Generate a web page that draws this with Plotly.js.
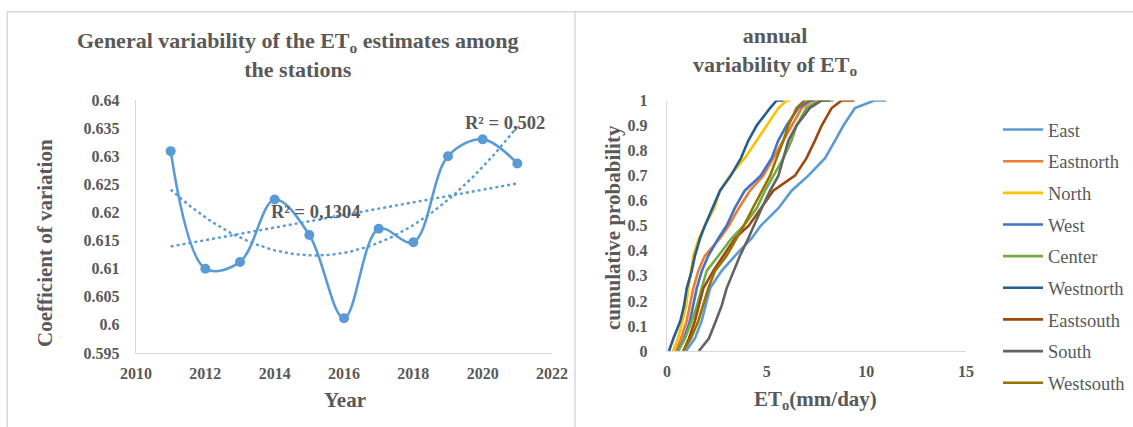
<!DOCTYPE html>
<html>
<head>
<meta charset="utf-8">
<script src="https://cdn.plot.ly/plotly-3.0.1.min.js"></script>
<style>
  html, body { margin: 0; padding: 0; background: #ffffff; }
  #chart { width: 1133px; height: 427px; }
</style>
</head>
<body>
<div id="chart"></div>
<script>
// ---------- Left chart data: coefficient of variation by year ----------
var years = [2011, 2012, 2013, 2014, 2015, 2016, 2017, 2018, 2019, 2020, 2021];
var cvValues = [0.6309, 0.6100, 0.6112, 0.6223, 0.6160, 0.6012, 0.6171, 0.6147, 0.6300, 0.6330, 0.6287];
var r2Linear = "R² = 0,1304";
var r2Poly = "R² = 0,502";

// ---------- Right chart data: empirical cumulative probability of ETo ----------
var probLevels = [0, 0.05, 0.12, 0.18, 0.25, 0.32, 0.38, 0.45, 0.5, 0.57, 0.64, 0.7, 0.77, 0.84, 0.9, 0.97, 1, 1];
var stationNames = ["East", "Eastnorth", "North", "West", "Center", "Westnorth", "Eastsouth", "South", "Westsouth"];
var etEast      = [0.95, 1.40, 1.74, 1.95, 2.16, 2.74, 3.41, 4.25, 4.70, 5.59, 6.25, 7.09, 7.93, 8.43, 8.85, 9.43, 10.4, 11.0];
var etEastnorth = [0.45, 0.70, 0.99, 1.15, 1.32, 1.57, 1.90, 2.66, 3.10, 3.60, 4.16, 4.83, 5.33, 5.84, 6.25, 6.76, 7.30, 7.80];
var etNorth     = [0.30, 0.55, 0.78, 0.95, 1.07, 1.20, 1.32, 1.60, 1.90, 2.37, 2.66, 3.16, 3.90, 4.50, 5.00, 5.59, 6.00, 6.20];
var etWest      = [0.55, 0.85, 1.15, 1.30, 1.49, 1.75, 2.07, 2.58, 2.99, 3.40, 3.90, 4.70, 5.25, 5.58, 6.00, 6.59, 7.17, 7.40];
var etCenter    = [0.57, 0.90, 1.24, 1.50, 1.74, 1.99, 2.58, 3.24, 3.85, 4.50, 4.92, 5.33, 5.84, 6.25, 6.50, 7.00, 7.60, 8.35];
var etWestnorth = [0.10, 0.32, 0.67, 0.85, 0.99, 1.24, 1.40, 1.66, 1.90, 2.30, 2.66, 3.20, 3.71, 4.08, 4.50, 5.17, 5.50, 5.85];
var etEastsouth = [0.82, 1.10, 1.40, 1.60, 1.82, 2.32, 2.83, 3.41, 4.10, 4.70, 5.33, 6.42, 7.00, 7.42, 7.76, 8.26, 8.76, 9.40];
var etSouth     = [1.60, 2.10, 2.45, 2.74, 2.99, 3.33, 3.66, 4.08, 4.35, 4.75, 5.17, 5.59, 5.84, 6.09, 6.50, 7.17, 7.76, 8.18];
var etWestsouth = [0.82, 1.20, 1.57, 1.80, 2.07, 2.41, 2.99, 3.49, 3.85, 4.30, 4.75, 5.17, 5.50, 5.84, 6.09, 6.50, 6.90, 7.26];
var stationColors = ["#5B9BD5", "#ED7D31", "#FFC000", "#4472C4", "#70AD47", "#255E91", "#9E480E", "#636363", "#997300"];

var tickLabelsRightX = [0, 5, 10, 15];

// ---------- helpers ----------
var W = 1133, H = 427;
function px(x) { return x / W; }
function py(y) { return 1 - y / H; }

// least squares polynomial fit (degree 1 or 2) computed from the data
function polyFit(xs, ys, deg) {
  var n = deg + 1, x0 = 2016;
  var A = [], b = [];
  for (var i = 0; i < n; i++) { A.push(new Array(n).fill(0)); b.push(0); }
  for (var k = 0; k < xs.length; k++) {
    var t = xs[k] - x0;
    for (var i2 = 0; i2 < n; i2++) {
      for (var j = 0; j < n; j++) A[i2][j] += Math.pow(t, i2 + j);
      b[i2] += ys[k] * Math.pow(t, i2);
    }
  }
  for (var c = 0; c < n; c++) {
    for (var r = c + 1; r < n; r++) {
      var f = A[r][c] / A[c][c];
      for (var cc = c; cc < n; cc++) A[r][cc] -= f * A[c][cc];
      b[r] -= f * b[c];
    }
  }
  var coef = new Array(n).fill(0);
  for (var r2 = n - 1; r2 >= 0; r2--) {
    var s = b[r2];
    for (var cc2 = r2 + 1; cc2 < n; cc2++) s -= A[r2][cc2] * coef[cc2];
    coef[r2] = s / A[r2][r2];
  }
  return function (x) {
    var t = x - x0, v = 0;
    for (var p = 0; p < n; p++) v += coef[p] * Math.pow(t, p);
    return v;
  };
}
var linFn = polyFit(years, cvValues, 1);
var quadFn = polyFit(years, cvValues, 2);
var fitX = [];
for (var i = 0; i <= 100; i++) fitX.push(years[0] + (years[years.length - 1] - years[0]) * i / 100);
var linY = fitX.map(linFn);
var quadY = fitX.map(quadFn);

var grey = "#595959";
var serif = "Liberation Serif";
var blue = "#5B9BD5";

var traces = [];
traces.push({
  x: years, y: cvValues, type: "scatter", mode: "lines+markers",
  line: { color: blue, width: 2.6, shape: "spline", smoothing: 1 },
  marker: { color: blue, size: 10 },
  xaxis: "x", yaxis: "y", showlegend: false
});
traces.push({
  x: fitX, y: linY, type: "scatter", mode: "lines",
  line: { color: blue, width: 2.4, dash: "dot" },
  xaxis: "x", yaxis: "y", showlegend: false
});
traces.push({
  x: fitX, y: quadY, type: "scatter", mode: "lines",
  line: { color: blue, width: 2.4, dash: "dot" },
  xaxis: "x", yaxis: "y", showlegend: false
});

var etSeries = [etEast, etEastnorth, etNorth, etWest, etCenter, etWestnorth, etEastsouth, etSouth, etWestsouth];
for (var s = 0; s < stationNames.length; s++) {
  traces.push({
    x: etSeries[s], y: probLevels, type: "scatter", mode: "lines",
    name: stationNames[s], legendgroup: "g" + s,
    line: { color: stationColors[s], width: 2.6 },
    xaxis: "x2", yaxis: "y2"
  });
}

var tickFont = { family: serif, size: 16, color: grey, weight: 700 };
var axisLine = "#d9d9d9";

var layout = {
  width: W, height: H,
  margin: { l: 0, r: 0, t: 0, b: 0 },
  paper_bgcolor: "#ffffff", plot_bgcolor: "rgba(0,0,0,0)",
  showlegend: true,
  font: { family: serif, color: grey, size: 16 },
  xaxis: {
    domain: [px(136), px(552)], range: [2010, 2022], dtick: 2, tick0: 2010,
    showgrid: false, zeroline: false, showline: true, linecolor: axisLine, linewidth: 1.3,
    ticks: "", tickfont: tickFont, ticklabelstandoff: 5, anchor: "y", fixedrange: true
  },
  yaxis: {
    domain: [py(353), py(100)], range: [0.595, 0.64], dtick: 0.005, tick0: 0.595,
    showgrid: false, zeroline: false, showline: true, linecolor: axisLine, linewidth: 1.3,
    ticks: "", tickfont: tickFont, ticklabelstandoff: 12, anchor: "x", fixedrange: true
  },
  xaxis2: {
    domain: [px(667), px(966)], range: [0, 15], tickvals: tickLabelsRightX,
    showgrid: false, zeroline: false, showline: true, linecolor: axisLine, linewidth: 1.3,
    ticks: "", tickfont: tickFont, ticklabelstandoff: 5, anchor: "y2", fixedrange: true
  },
  yaxis2: {
    domain: [py(351), py(100.5)], range: [0, 1], dtick: 0.1, tick0: 0,
    showgrid: false, zeroline: false, showline: true, linecolor: axisLine, linewidth: 1.3,
    ticks: "", tickfont: tickFont, ticklabelstandoff: 15, anchor: "x2", fixedrange: true
  },
  legend: {
    x: px(998), xanchor: "left", y: py(111), yanchor: "top",
    font: { family: serif, size: 18.5, color: grey, weight: 400 },
    bgcolor: "rgba(0,0,0,0)", borderwidth: 0,
    traceorder: "grouped", tracegroupgap: 4.6, itemwidth: 40
  },
  shapes: [
    { type: "line", xref: "paper", yref: "paper", x0: px(7), x1: 1, y0: py(11.7), y1: py(11.7), line: { color: "#d9d9d9", width: 1.5 } },
    { type: "line", xref: "paper", yref: "paper", x0: px(7.3), x1: px(7.3), y0: py(11.7), y1: 0, line: { color: "#d9d9d9", width: 1.5 } },
    { type: "line", xref: "paper", yref: "paper", x0: px(575), x1: px(575), y0: py(11.7), y1: 0, line: { color: "#d9d9d9", width: 1.5 } }
  ],
  annotations: [
    { text: "General variability of the ET<sub>o</sub> estimates among<br>the stations", xref: "paper", yref: "paper",
      x: px(298), y: py(55), xanchor: "center", yanchor: "middle", showarrow: false,
      font: { family: serif, size: 22, color: grey, weight: 700 } },
    { text: "annual<br>variability of ET<sub>o</sub>", xref: "paper", yref: "paper",
      x: px(775), y: py(51), xanchor: "center", yanchor: "middle", showarrow: false,
      font: { family: serif, size: 22, color: grey, weight: 700 } },
    { text: "Coefficient of variation", xref: "paper", yref: "paper", textangle: -90,
      x: px(45), y: py(243), xanchor: "center", yanchor: "middle", showarrow: false,
      font: { family: serif, size: 21, color: grey, weight: 700 } },
    { text: "Year", xref: "paper", yref: "paper",
      x: px(345), y: py(400), xanchor: "center", yanchor: "middle", showarrow: false,
      font: { family: serif, size: 21, color: grey, weight: 700 } },
    { text: "cumulative probability", xref: "paper", yref: "paper", textangle: -90,
      x: px(613), y: py(228), xanchor: "center", yanchor: "middle", showarrow: false,
      font: { family: serif, size: 21, color: grey, weight: 700 } },
    { text: "ET<sub>o</sub>(mm/day)", xref: "paper", yref: "paper",
      x: px(815), y: py(400), xanchor: "center", yanchor: "middle", showarrow: false,
      font: { family: serif, size: 21, color: grey, weight: 700 } },
    { text: r2Linear, xref: "paper", yref: "paper",
      x: px(316), y: py(212), xanchor: "center", yanchor: "middle", showarrow: false,
      font: { family: serif, size: 18.5, color: grey, weight: 700 } },
    { text: r2Poly, xref: "paper", yref: "paper",
      x: px(505), y: py(123), xanchor: "center", yanchor: "middle", showarrow: false,
      font: { family: serif, size: 18.5, color: grey, weight: 700 } }
  ]
};

Plotly.newPlot("chart", traces, layout, { displayModeBar: false, staticPlot: true });
</script>
</body>
</html>
